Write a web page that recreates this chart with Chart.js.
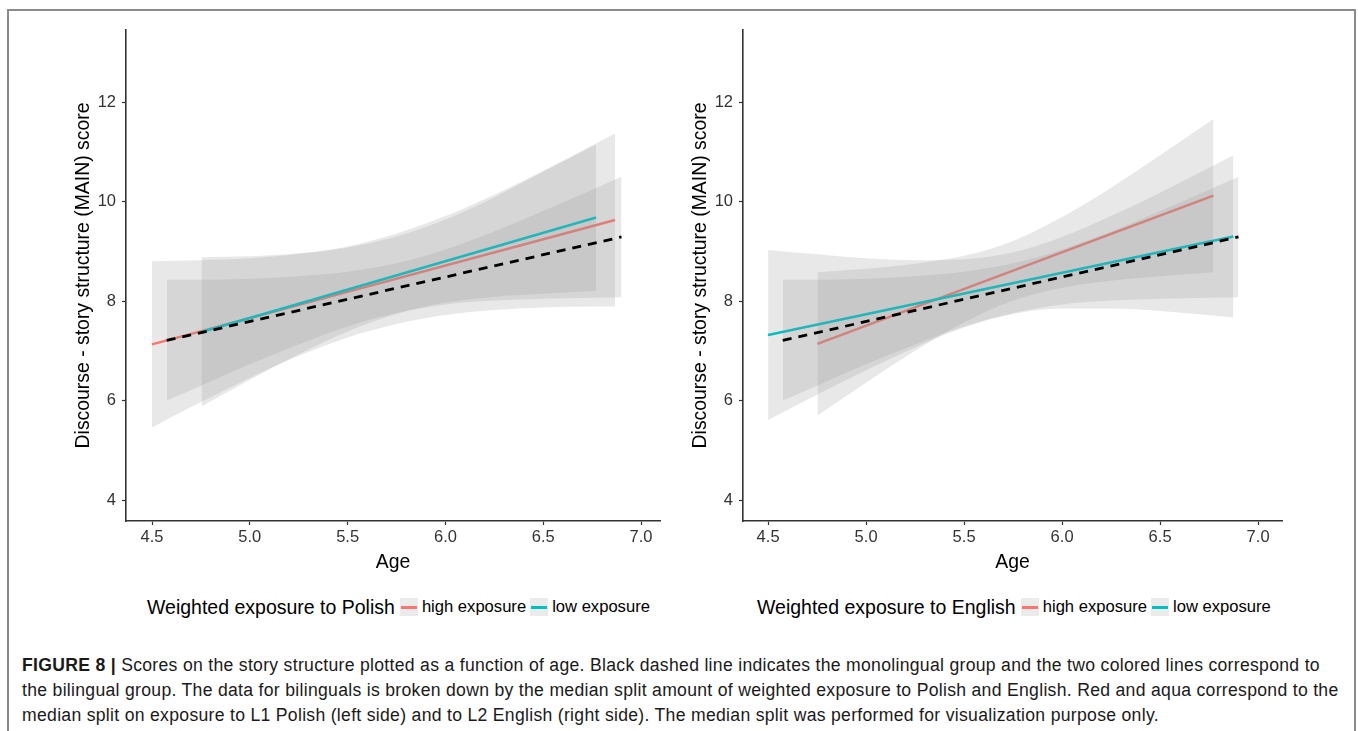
<!DOCTYPE html>
<html>
<head>
<meta charset="utf-8">
<script src="https://cdn.jsdelivr.net/npm/chart.js@4/dist/chart.umd.min.js"></script>
<style>
  body { margin: 0; background: #fff; font-family: 'Liberation Sans', Arial, sans-serif; }
  #page { position: relative; width: 1358px; height: 731px; overflow: hidden; background: #fff; }
  #frame { position: absolute; left: 7px; top: 9px; width: 1349px; height: 760px; box-sizing: border-box; border: 2px solid #8a8a8a; }
  canvas { position: absolute; top: 0; }
  .legend { position: absolute; top: 595px; height: 24px; display: flex; align-items: center; color: #000; white-space: nowrap; }
  .legend .ttl { font-size: 19.5px; margin-right: 5px; }
  .legend .key { width: 18px; height: 18px; background: #ebebeb; position: relative; margin-right: 4px; }
  .legend .key i { position: absolute; left: 1px; right: 1px; top: 7.5px; height: 3px; }
  .legend .lab { font-size: 16.6px; margin-right: 4px; }
  #caption { position: absolute; left: 22px; top: 653px; font-size: 17.6px; letter-spacing: 0.3px; line-height: 25px; color: #1a1a1a; white-space: nowrap; }
</style>
</head>
<body>
<div id="page">
  <div id="frame"></div>
  <canvas id="polish" width="680" height="580" style="left:0px"></canvas>
  <canvas id="english" width="685" height="580" style="left:617px"></canvas>

  <div class="legend" style="left:147px">
    <span class="ttl">Weighted exposure to Polish</span>
    <span class="key"><i style="background:#F8766D"></i></span><span class="lab">high exposure</span>
    <span class="key"><i style="background:#00BFC4"></i></span><span class="lab">low exposure</span>
  </div>
  <div class="legend" style="left:757px">
    <span class="ttl">Weighted exposure to English</span>
    <span class="key"><i style="background:#F8766D"></i></span><span class="lab">high exposure</span>
    <span class="key"><i style="background:#00BFC4"></i></span><span class="lab">low exposure</span>
  </div>

  <div id="caption">
    <b>FIGURE 8 |</b> Scores on the story structure plotted as a function of age. Black dashed line indicates the monolingual group and the two colored lines correspond to<br>
    the bilingual group. The data for bilinguals is broken down by the median split amount of weighted exposure to Polish and English. Red and aqua correspond to the<br>
    median split on exposure to L1 Polish (left side) and to L2 English (right side). The median split was performed for visualization purpose only.
  </div>
</div>

<script>
const xTicks = [4.5, 5.0, 5.5, 6.0, 6.5, 7.0];
const yTicks = [4, 6, 8, 10, 12];

// monolingual group, same fit in both panels
const monoX = [4.575, 6.9];
const monoY = [7.21, 9.29];
const monoBandX = [4.575, 4.75, 5.0, 5.25, 5.5, 5.75, 6.0, 6.25, 6.5, 6.75, 6.9];
const monoUpper = [8.43, 8.43, 8.45, 8.50, 8.59, 8.76, 9.04, 9.40, 9.81, 10.24, 10.50];
const monoLower = [6.00, 6.30, 6.73, 7.13, 7.49, 7.76, 7.93, 8.01, 8.05, 8.07, 8.08];

// exposure to Polish
const polHighX = [4.5, 6.867];
const polHighY = [7.13, 9.63];
const polHighBandX = [4.5, 4.75, 5.0, 5.25, 5.5, 5.75, 6.0, 6.25, 6.5, 6.75, 6.867];
const polHighUpper = [8.80, 8.82, 8.86, 8.95, 9.10, 9.36, 9.71, 10.14, 10.62, 11.13, 11.37];
const polHighLower = [5.46, 5.97, 6.46, 6.90, 7.27, 7.54, 7.72, 7.82, 7.87, 7.89, 7.89];
const polLowX = [4.753, 6.77];
const polLowY = [7.38, 9.68];
const polLowBandX = [4.753, 5.0, 5.25, 5.5, 5.75, 6.0, 6.25, 6.5, 6.77];
const polLowUpper = [8.88, 8.90, 8.96, 9.08, 9.30, 9.64, 10.09, 10.60, 11.15];
const polLowLower = [5.88, 6.42, 6.93, 7.39, 7.74, 7.97, 8.09, 8.15, 8.21];

// exposure to English
const engHighX = [4.752, 6.772];
const engHighY = [7.14, 10.12];
const engHighBandX = [4.752, 5.0, 5.25, 5.5, 5.75, 6.0, 6.25, 6.5, 6.772];
const engHighUpper = [8.58, 8.65, 8.75, 8.91, 9.21, 9.69, 10.28, 10.93, 11.66];
const engHighLower = [5.70, 6.36, 7.00, 7.57, 8.01, 8.27, 8.41, 8.50, 8.58];
const engLowX = [4.5, 6.874];
const engLowY = [7.32, 9.30];
const engLowBandX = [4.5, 4.75, 5.0, 5.25, 5.5, 5.75, 6.0, 6.25, 6.5, 6.874];
const engLowUpper = [9.03, 8.94, 8.86, 8.82, 8.84, 8.98, 9.29, 9.71, 10.18, 10.93];
const engLowLower = [5.61, 6.12, 6.61, 7.07, 7.47, 7.74, 7.85, 7.85, 7.80, 7.67];

const RED = '#F8766D', AQUA = '#00BFC4';
const ribbon = 'rgba(150,150,150,0.22)';
const axisColor = '#333';

function pts(xs, ys) {
  return xs.map((x, i) => ({ x: x, y: ys[i] }));
}

function bandPair(xs, up, lo, fillIdx, order) {
  return [
    { data: pts(xs, up), fill: fillIdx, backgroundColor: ribbon, borderWidth: 0,
      pointRadius: 0, cubicInterpolationMode: 'monotone', order: order },
    { data: pts(xs, lo), fill: false, borderWidth: 0,
      pointRadius: 0, cubicInterpolationMode: 'monotone', order: order - 1 }
  ];
}

function fitLine(xs, ys, color, order, dash) {
  return { data: pts(xs, ys), borderColor: color, borderWidth: dash ? 2.8 : 2.5,
    borderDash: dash || [], borderCapStyle: 'butt', pointRadius: 0, fill: false, tension: 0, order: order };
}

function makePanel(id, xMin, xMax, hi, lo) {
  const datasets = [
    ...bandPair(hi.bx, hi.up, hi.lo, 1, 9),
    fitLine(hi.x, hi.y, RED, 7),
    ...bandPair(lo.bx, lo.up, lo.lo, 4, 6),
    fitLine(lo.x, lo.y, AQUA, 4),
    ...bandPair(monoBandX, monoUpper, monoLower, 7, 3),
    fitLine(monoX, monoY, '#000', 1, [9, 7])
  ];
  const tickFont = { family: "'Liberation Sans', Arial, sans-serif", size: 16.5 };
  const titleFont = { family: "'Liberation Sans', Arial, sans-serif", size: 19.4 };
  return new Chart(document.getElementById(id), {
    type: 'line',
    data: { datasets: datasets },
    options: {
      responsive: false,
      animation: false,
      events: [],
      layout: { padding: { top: 30, right: 20, left: 0, bottom: 0 } },
      plugins: { legend: { display: false }, tooltip: { enabled: false } },
      scales: {
        x: {
          type: 'linear', min: xMin, max: xMax,
          afterBuildTicks: s => { s.ticks = xTicks.map(v => ({ value: v })); },
          afterFit: s => { s.height = 59; },
          ticks: { color: axisColor, font: tickFont, padding: 3, maxRotation: 0, callback: v => v.toFixed(1) },
          grid: { drawOnChartArea: false, drawTicks: true, tickLength: 4, color: axisColor, tickWidth: 1.2 },
          border: { display: true, color: axisColor, width: 1.6 },
          title: { display: true, text: 'Age', color: '#000', font: titleFont, padding: { top: 0, bottom: 6 } }
        },
        y: {
          type: 'linear', min: 3.58, max: 13.45,
          afterBuildTicks: s => { s.ticks = yTicks.map(v => ({ value: v })); },
          afterFit: s => { s.width = 126; },
          ticks: { color: axisColor, font: tickFont, padding: 6, callback: v => String(v) },
          grid: { drawOnChartArea: false, drawTicks: true, tickLength: 4, color: axisColor, tickWidth: 1.2 },
          border: { display: true, color: axisColor, width: 1.6 },
          title: { display: true, text: 'Discourse - story structure (MAIN) score', color: '#000',
                   font: titleFont, padding: { top: 72, bottom: 0 } }
        }
      }
    }
  });
}

makePanel('polish', 4.367, 7.097,
  { x: polHighX, y: polHighY, bx: polHighBandX, up: polHighUpper, lo: polHighLower },
  { x: polLowX, y: polLowY, bx: polLowBandX, up: polLowUpper, lo: polLowLower });

makePanel('english', 4.372, 7.122,
  { x: engHighX, y: engHighY, bx: engHighBandX, up: engHighUpper, lo: engHighLower },
  { x: engLowX, y: engLowY, bx: engLowBandX, up: engLowUpper, lo: engLowLower });
</script>
</body>
</html>
